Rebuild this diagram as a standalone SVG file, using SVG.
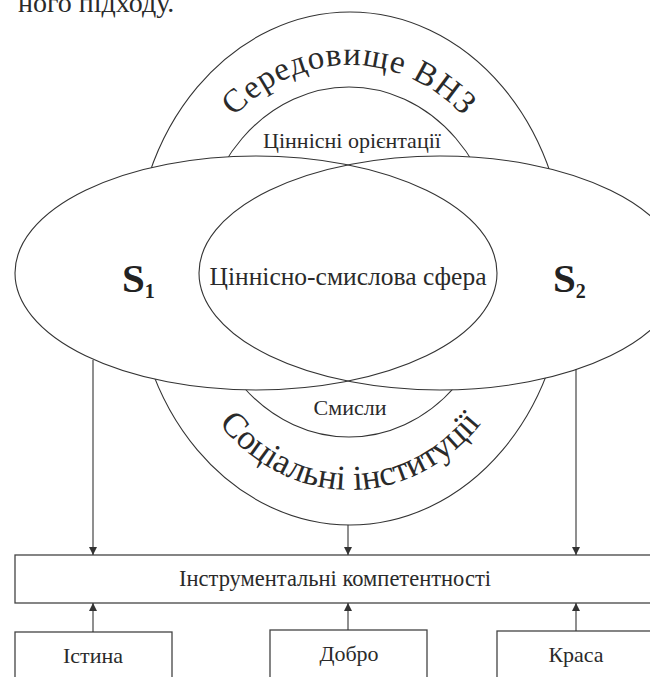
<svg xmlns="http://www.w3.org/2000/svg" width="650" height="677" viewBox="0 0 650 677">
<style>
.ln{fill:none;stroke:#333;stroke-width:1.1}
.wf{fill:#fff;stroke:none}
.bx{fill:#fff;stroke:#444;stroke-width:1.3}
.t{font-family:"Liberation Serif","Times New Roman",serif;fill:#2a2a2a}
.c{text-anchor:middle}
.big{font-size:33px}
.big2{font-size:35px}
.s{font-family:"Liberation Serif","Times New Roman",serif;font-weight:bold;fill:#222;font-size:41px}
.sub{font-size:20px}
</style>
<defs>
<marker id="ah" viewBox="0 0 10 10" refX="10" refY="5" markerWidth="8" markerHeight="8" markerUnits="userSpaceOnUse" orient="auto">
<path d="M0,0 L10,5 L0,10 z" fill="#333"/>
</marker>
<path id="topArc" d="M179,262 A170,197 0 0 1 519,262"/>
<path id="botArc" d="M166,268 A184,222 0 0 0 534,268"/>
</defs>
<text class="t" x="18" y="12" font-size="28">ного підходу.</text>
<g id="outer">
<ellipse class="ln" cx="350" cy="268.5" rx="216" ry="256.5" fill="#fff"/>
<text class="t big" letter-spacing="1"><textPath href="#topArc" startOffset="50%" text-anchor="middle">Середовище ВНЗ</textPath></text>
<text class="t big2"><textPath href="#botArc" startOffset="50%" text-anchor="middle">Соціальні інституції</textPath></text>
</g>
<g id="inner">
<ellipse class="ln" cx="349" cy="262" rx="151" ry="175"/>
<text class="t c" x="352" y="148" font-size="22">Ціннісні орієнтації</text>
<text class="t c" x="350" y="415" font-size="22">Смисли</text>
</g>
<g id="spheres">
<ellipse class="wf" cx="256" cy="273" rx="241" ry="117"/>
<ellipse class="wf" cx="440" cy="273" rx="241" ry="117"/>
<ellipse class="ln" cx="256" cy="273" rx="241" ry="117"/>
<ellipse class="ln" cx="440" cy="273" rx="241" ry="117"/>
</g>
<g id="s1"><text class="s" x="122" y="292">S<tspan class="sub" dy="6">1</tspan></text></g>
<g id="s2"><text class="s" x="553" y="292">S<tspan class="sub" dy="6">2</tspan></text></g>
<g id="core"><text class="t c" x="348" y="285" font-size="25.5">Ціннісно-смислова сфера</text></g>
<g id="competences">
<rect class="bx" x="15" y="555" width="650" height="48"/>
<text class="t c" x="335" y="586" font-size="22.5">Інструментальні компетентності</text>
</g>
<g id="truth">
<rect class="bx" x="15" y="632" width="157" height="60"/>
<text class="t c" x="93" y="663" font-size="22">Істина</text>
</g>
<g id="good">
<rect class="bx" x="270" y="630" width="157" height="60"/>
<text class="t c" x="349" y="661" font-size="22">Добро</text>
</g>
<g id="beauty">
<rect class="bx" x="497" y="631" width="170" height="60"/>
<text class="t c" x="576" y="662" font-size="22">Краса</text>
</g>
<g id="connectors">
<line class="ln" x1="93" y1="360" x2="93" y2="555" marker-end="url(#ah)"/>
<line class="ln" x1="348" y1="525" x2="348" y2="555" marker-end="url(#ah)"/>
<line class="ln" x1="576" y1="369" x2="576" y2="555" marker-end="url(#ah)"/>
<line class="ln" x1="93" y1="632" x2="93" y2="603" marker-end="url(#ah)"/>
<line class="ln" x1="348" y1="630" x2="348" y2="603" marker-end="url(#ah)"/>
<line class="ln" x1="576" y1="631" x2="576" y2="603" marker-end="url(#ah)"/>
</g>
</svg>
